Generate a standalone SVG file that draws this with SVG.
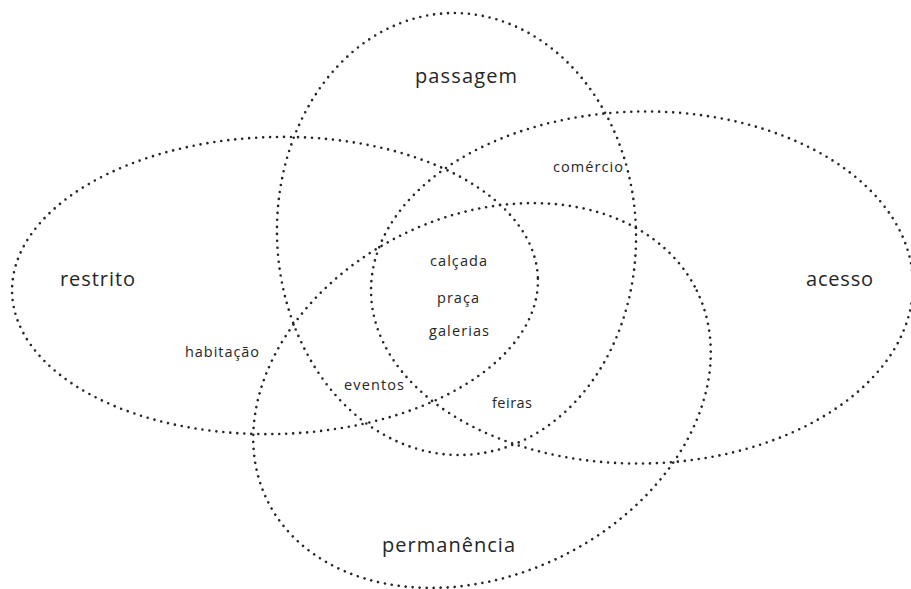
<svg xmlns="http://www.w3.org/2000/svg" width="911" height="589" viewBox="0 0 911 589">
<style>
.set{fill:none;stroke:#262626;stroke-width:2.6;stroke-linecap:round;stroke-dasharray:0 7}
.big{font-family:"Open Sans","Noto Sans",sans-serif;font-size:20px;fill:#262626;text-anchor:middle}
.small{font-family:"Open Sans","Noto Sans",sans-serif;font-size:14.5px;fill:#262626;text-anchor:middle}
</style>
<rect width="911" height="589" fill="#fff"/>
<g id="connectors"></g>
<g id="restrito">
<ellipse class="set" cx="275" cy="285.5" rx="263" ry="148.5" transform="rotate(-1.5 275 285.5)"/>
<text class="big" x="97.5" y="286" textLength="75" lengthAdjust="spacing">restrito</text>
</g>
<g id="passagem">
<ellipse class="set" cx="456.5" cy="234" rx="179.5" ry="221" transform="rotate(-2 456.5 234)"/>
<text class="big" x="466" y="83" textLength="102" lengthAdjust="spacing">passagem</text>
</g>
<g id="acesso">
<ellipse class="set" cx="642" cy="287.5" rx="271" ry="176" transform="rotate(-1 642 287.5)"/>
<text class="big" x="839.5" y="286" textLength="67" lengthAdjust="spacing">acesso</text>
</g>
<g id="permanencia">
<ellipse class="set" cx="482" cy="395.5" rx="239" ry="179.5" transform="rotate(-26 482 395.5)"/>
<text class="big" x="448.5" y="552" textLength="133" lengthAdjust="spacing">permanência</text>
</g>
<g id="labels">
<text class="small" x="588" y="172" textLength="70" lengthAdjust="spacing">comércio</text>
<text class="small" x="458.5" y="266" textLength="57" lengthAdjust="spacing">calçada</text>
<text class="small" x="458" y="303" textLength="42" lengthAdjust="spacing">praça</text>
<text class="small" x="459" y="336" textLength="60" lengthAdjust="spacing">galerias</text>
<text class="small" x="374" y="390" textLength="60" lengthAdjust="spacing">eventos</text>
<text class="small" x="512" y="408" textLength="40" lengthAdjust="spacing">feiras</text>
<text class="small" x="222" y="357" textLength="74" lengthAdjust="spacing">habitação</text>
</g>
</svg>
